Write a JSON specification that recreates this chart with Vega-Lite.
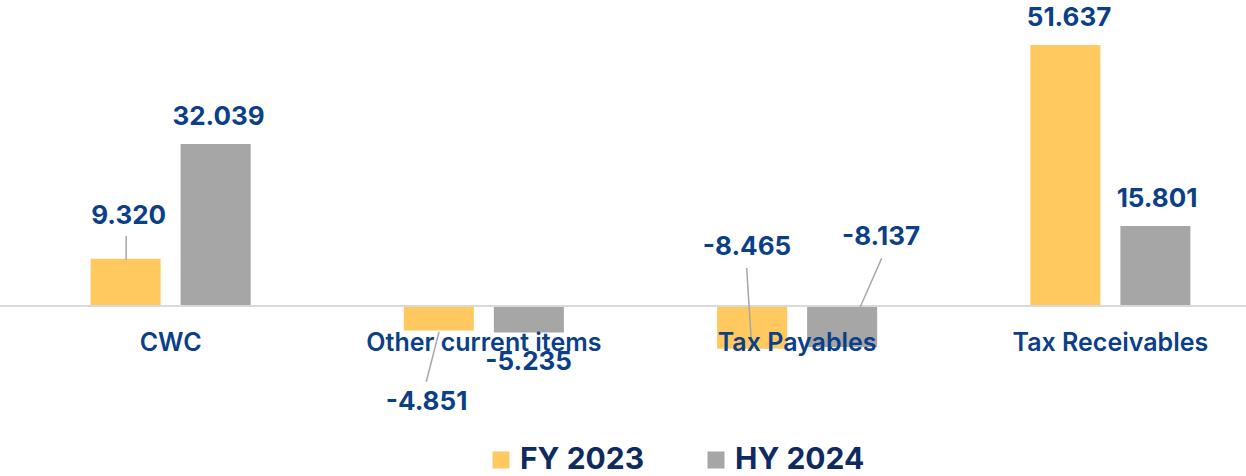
{
  "$schema": "https://vega.github.io/schema/vega-lite/v6.json",
  "autosize": {"type": "none"},
  "width": 1253,
  "height": 328.5,
  "padding": {"left": 14, "top": 28, "right": 0, "bottom": 120},
  "background": "white",
  "config": {"view": {"stroke": null}, "font": "Inter"},
  "datasets": {
    "bars": [
      {"category": "CWC", "series": "FY 2023", "value": 9.320},
      {"category": "CWC", "series": "HY 2024", "value": 32.039},
      {"category": "Other current items", "series": "FY 2023", "value": -4.851},
      {"category": "Other current items", "series": "HY 2024", "value": -5.235},
      {"category": "Tax Payables", "series": "FY 2023", "value": -8.465},
      {"category": "Tax Payables", "series": "HY 2024", "value": -8.137},
      {"category": "Tax Receivables", "series": "FY 2023", "value": 51.637},
      {"category": "Tax Receivables", "series": "HY 2024", "value": 15.801}
    ],
    "labels": [
      {"label": "9.320", "lx": 0.366, "ly": 17.8},
      {"label": "32.039", "lx": 0.653, "ly": 37.3},
      {"label": "-4.851", "lx": 1.317, "ly": -19.0},
      {"label": "-5.235", "lx": 1.643, "ly": -11.1},
      {"label": "-8.465", "lx": 2.340, "ly": 11.6},
      {"label": "-8.137", "lx": 2.768, "ly": 13.6},
      {"label": "51.637", "lx": 3.368, "ly": 57.0},
      {"label": "15.801", "lx": 3.649, "ly": 21.2}
    ],
    "leaders": [
      {"x1": 0.358, "y1": 13.86, "x2": 0.358, "y2": 9.11},
      {"x1": 1.357, "y1": -5.09, "x2": 1.316, "y2": -15.0},
      {"x1": 2.339, "y1": 7.52, "x2": 2.355, "y2": -8.12},
      {"x1": 2.770, "y1": 9.45, "x2": 2.701, "y2": -0.26}
    ],
    "baseline": [{"xa": -0.05, "xb": 4, "v": 0}]
  },
  "resolve": {"scale": {"x": "independent"}},
  "layer": [
    {
      "data": {"name": "bars"},
      "mark": {"type": "bar"},
      "encoding": {
        "x": {
          "field": "category", "type": "nominal",
          "sort": ["CWC", "Other current items", "Tax Payables", "Tax Receivables"],
          "scale": {"paddingInner": 0.489, "paddingOuter": 0.2445},
          "axis": {
            "orient": "bottom", "offset": -50.5, "title": null, "domain": false, "ticks": false,
            "labelAngle": 0, "labelFont": "Inter", "labelFontSize": 25, "labelFontWeight": 600,
            "labelColor": "#0B3F87", "labelPadding": 36, "labelBaseline": "middle", "labelLimit": 0, "zindex": 1
          }
        },
        "xOffset": {"field": "series", "type": "nominal", "scale": {"paddingInner": 0.222, "paddingOuter": 0}},
        "y": {"field": "value", "type": "quantitative", "scale": {"domain": [-10, 55], "nice": false, "zero": false}, "axis": null},
        "color": {
          "field": "series", "type": "nominal",
          "scale": {"domain": ["FY 2023", "HY 2024"], "range": ["#FFC95F", "#A6A6A6"]},
          "legend": {
            "orient": "none", "legendX": 472, "legendY": 417, "direction": "horizontal", "title": null,
            "symbolType": "square", "symbolSize": 289, "symbolStrokeWidth": 0, "symbolOpacity": 1,
            "labelFont": "Inter", "labelFontSize": 30, "labelFontWeight": 700, "labelColor": "#0F2A5E",
            "labelOffset": 4, "columnPadding": 56, "padding": 0, "labelLimit": 0
          }
        }
      }
    },
    {
      "data": {"name": "baseline"},
      "mark": {"type": "rule", "color": "#D9D9D9", "strokeWidth": 2},
      "encoding": {
        "x": {"field": "xa", "type": "quantitative", "scale": {"domain": [0, 4], "nice": false, "zero": false}, "axis": null},
        "x2": {"field": "xb"},
        "y": {"field": "v", "type": "quantitative", "scale": {"domain": [-10, 55], "nice": false, "zero": false}, "axis": null}
      }
    },
    {
      "data": {"name": "leaders"},
      "mark": {"type": "rule", "color": "#A6A6A6", "strokeWidth": 1.5},
      "encoding": {
        "x": {"field": "x1", "type": "quantitative", "scale": {"domain": [0, 4], "nice": false, "zero": false}, "axis": null},
        "x2": {"field": "x2"},
        "y": {"field": "y1", "type": "quantitative", "scale": {"domain": [-10, 55], "nice": false, "zero": false}, "axis": null},
        "y2": {"field": "y2"}
      }
    },
    {
      "data": {"name": "labels"},
      "mark": {"type": "text", "font": "Inter", "fontSize": 26, "fontWeight": 700, "color": "#0B3F87", "baseline": "middle", "align": "center"},
      "encoding": {
        "x": {"field": "lx", "type": "quantitative", "scale": {"domain": [0, 4], "nice": false, "zero": false}, "axis": null},
        "y": {"field": "ly", "type": "quantitative", "scale": {"domain": [-10, 55], "nice": false, "zero": false}, "axis": null},
        "text": {"field": "label", "type": "nominal"}
      }
    }
  ]
}
